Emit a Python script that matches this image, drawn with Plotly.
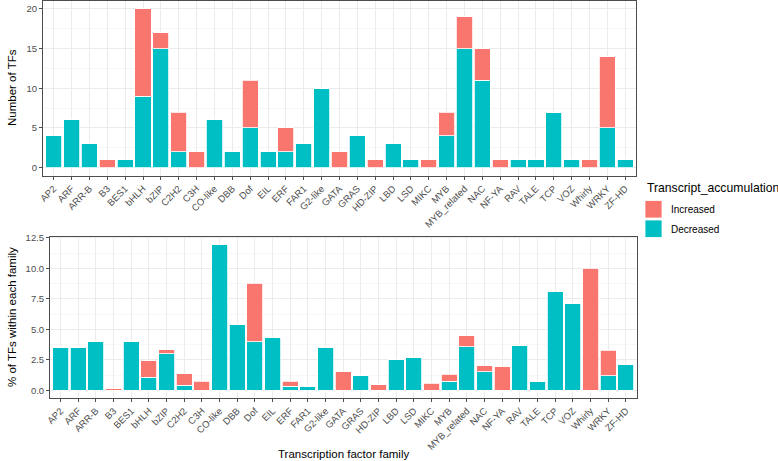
import plotly.graph_objects as go

families = ["AP2", "ARF", "ARR-B", "B3", "BES1", "bHLH", "bZIP", "C2H2", "C3H", "CO-like",
            "DBB", "Dof", "EIL", "ERF", "FAR1", "G2-like", "GATA", "GRAS", "HD-ZIP", "LBD",
            "LSD", "MIKC", "MYB", "MYB_related", "NAC", "NF-YA", "RAV", "TALE", "TCP", "VOZ",
            "Whirly", "WRKY", "ZF-HD"]

count_decreased = [4, 6, 3, 0, 1, 9, 15, 2, 0, 6, 2, 5, 2, 2, 3, 10, 0, 4, 0, 3,
                   1, 0, 4, 15, 11, 0, 1, 1, 7, 1, 0, 5, 1]
count_increased = [0, 0, 0, 1, 0, 11, 2, 5, 2, 0, 0, 6, 0, 3, 0, 0, 2, 0, 1, 0,
                   0, 1, 3, 4, 4, 1, 0, 0, 0, 0, 1, 9, 0]

pct_decreased = [3.51, 3.49, 4.0, 0.0, 4.0, 1.09, 2.99, 0.41, 0.0, 11.98,
                 5.41, 4.0, 4.35, 0.33, 0.30, 3.53, 0.0, 1.20, 0.0, 2.53,
                 2.69, 0.0, 0.73, 3.56, 1.52, 0.0, 3.70, 0.71, 8.12, 7.12,
                 0.0, 1.20, 2.12]
pct_increased = [0.0, 0.0, 0.0, 0.14, 0.0, 1.33, 0.33, 0.95, 0.76, 0.0,
                 0.0, 4.80, 0.0, 0.40, 0.0, 0.0, 1.52, 0.0, 0.46, 0.0,
                 0.0, 0.60, 0.60, 0.90, 0.52, 1.93, 0.0, 0.0, 0.0, 0.0,
                 10.0, 2.09, 0.0]

C_INC = "#F8766D"
C_DEC = "#00BFC4"
FONT = "Liberation Sans, Arial, sans-serif"
TICK_COLOR = "#4D4D4D"
GRID = "#EBEBEB"
BORDER = "#4D4D4D"

W, H = 778, 461

def px_x(p):
    return p / W

def px_y(p):
    return 1 - p / H

fig = go.Figure()

bar_line = dict(color="white", width=0.8)

fig.add_trace(go.Bar(x=families, y=count_decreased, marker=dict(color=C_DEC, line=bar_line),
                     width=0.9, xaxis="x", yaxis="y", showlegend=False, name="Decreased"))
fig.add_trace(go.Bar(x=families, y=count_increased, marker=dict(color=C_INC, line=bar_line),
                     width=0.9, xaxis="x", yaxis="y", showlegend=False, name="Increased"))
fig.add_trace(go.Bar(x=families, y=pct_decreased, marker=dict(color=C_DEC, line=bar_line),
                     width=0.9, xaxis="x2", yaxis="y2", showlegend=False, name="Decreased"))
fig.add_trace(go.Bar(x=families, y=pct_increased, marker=dict(color=C_INC, line=bar_line),
                     width=0.9, xaxis="x2", yaxis="y2", showlegend=False, name="Increased"))

tickfont = dict(family=FONT, size=9.5, color=TICK_COLOR)

def xaxis_cfg(domain, anchor):
    return dict(domain=domain, anchor=anchor, type="category", categoryorder="array",
                categoryarray=families, range=[-0.6, len(families) - 0.4],
                tickangle=-45, tickfont=tickfont, ticks="outside", ticklen=3,
                tickcolor=BORDER, tickwidth=1,
                showgrid=True, gridcolor=GRID, gridwidth=1,
                showline=True, linecolor=BORDER, linewidth=1, mirror=True,
                zeroline=False, automargin=False, fixedrange=True)

def yaxis_cfg(domain, anchor, rng, dtick, minor_dtick, fmt):
    return dict(domain=domain, anchor=anchor, range=rng, dtick=dtick, tick0=0,
                tickformat=fmt, tickfont=tickfont, ticks="outside", ticklen=3,
                tickcolor=BORDER, tickwidth=1,
                showgrid=True, gridcolor=GRID, gridwidth=1,
                minor=dict(dtick=minor_dtick, tick0=0, showgrid=True, gridcolor="#F2F2F2", gridwidth=0.6),
                showline=True, linecolor=BORDER, linewidth=1, mirror=True,
                zeroline=False, automargin=False, fixedrange=True)

fig.update_layout(
    width=W, height=H,
    template="none",
    barmode="stack",
    bargap=0,
    paper_bgcolor="white",
    plot_bgcolor="white",
    margin=dict(l=0, r=0, t=0, b=0),
    font=dict(family=FONT, color="black"),
    showlegend=False,
    xaxis=xaxis_cfg([px_x(43), px_x(636)], "y"),
    yaxis=yaxis_cfg([px_y(175.5), px_y(1)], "x", [-1, 21], 5, 2.5, "d"),
    xaxis2=xaxis_cfg([px_x(50), px_x(636.5)], "y2"),
    yaxis2=yaxis_cfg([px_y(397.7), px_y(236.7)], "x2", [-0.6, 12.6], 2.5, 1.25, ".1f"),
)

ann = []
ann.append(dict(text="Number of TFs", x=px_x(12), y=px_y(88), xref="paper", yref="paper",
                textangle=-90, showarrow=False, font=dict(family=FONT, size=11.5, color="black"),
                xanchor="center", yanchor="middle"))
ann.append(dict(text="% of TFs within each family", x=px_x(12), y=px_y(317), xref="paper", yref="paper",
                textangle=-90, showarrow=False, font=dict(family=FONT, size=11.5, color="black"),
                xanchor="center", yanchor="middle"))
ann.append(dict(text="Transcription factor family", x=px_x(343), y=px_y(454), xref="paper", yref="paper",
                showarrow=False, font=dict(family=FONT, size=11.5, color="black"),
                xanchor="center", yanchor="middle"))

# legend (drawn manually to match large ggplot keys)
legend_labels = ["Increased", "Decreased"]
legend_colors = [C_INC, C_DEC]
ann.append(dict(text="Transcript_accumulation", x=px_x(645), y=px_y(188), xref="paper", yref="paper",
                showarrow=False, font=dict(family=FONT, size=12.2, color="black"),
                xanchor="left", yanchor="middle"))
shapes = []
for i, (lab, col) in enumerate(zip(legend_labels, legend_colors)):
    top = 200.5 + i * 19.5
    shapes.append(dict(type="rect", xref="paper", yref="paper",
                       x0=px_x(645), x1=px_x(662), y0=px_y(top + 17.5), y1=px_y(top),
                       fillcolor=col, line=dict(color="white", width=0.8)))
    ann.append(dict(text=lab, x=px_x(669), y=px_y(top + 9), xref="paper", yref="paper",
                    showarrow=False, font=dict(family=FONT, size=10, color="black"),
                    xanchor="left", yanchor="middle"))

fig.update_layout(annotations=ann, shapes=shapes)

fig.write_html("out.html",
               config={"displayModeBar": False, "staticPlot": True},
               post_script="document.body.style.margin='0';document.body.style.padding='0';")
